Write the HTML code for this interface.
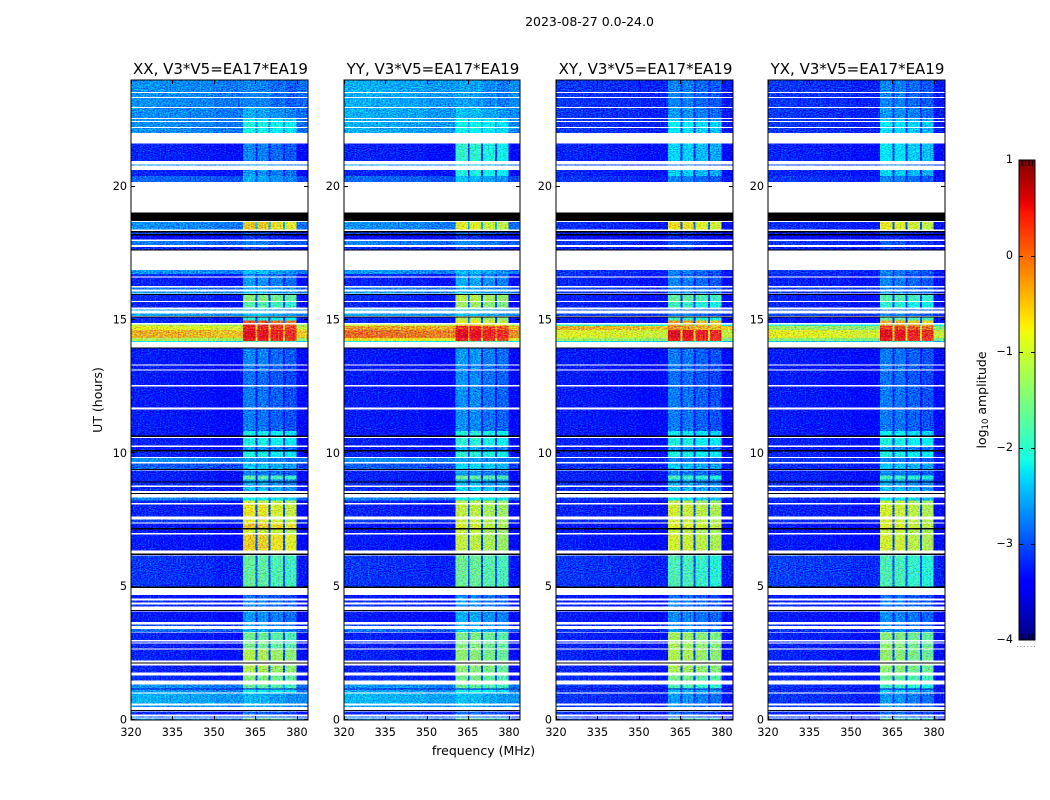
<!DOCTYPE html>
<html lang="en">
<head>
<meta charset="utf-8">
<title>2023-08-27 0.0-24.0</title>
<style>
html,body{margin:0;padding:0;background:#fff;}
svg{display:block;}
text{font-family:"DejaVu Sans","Liberation Sans",sans-serif;fill:#000;}
</style>
</head>
<body>
<svg id="figure" xmlns="http://www.w3.org/2000/svg" width="1050" height="800" viewBox="0 0 1050 800">
<defs>
<filter id="speckle-a" x="0" y="0" width="1" height="1" color-interpolation-filters="sRGB">
<feTurbulence type="fractalNoise" baseFrequency="0.6 0.95" numOctaves="1" seed="3" result="t"/>
<feColorMatrix in="t" type="matrix" values="0.5 0 0 0 0.2 0 1 0 0 0 0 0 1 0 0.1 0 0 0 0 1" result="n"/>
<feComposite in="SourceGraphic" in2="n" operator="arithmetic" k1="0" k2="1" k3="1.4" k4="-0.72" result="a"/>
<feComposite in="a" in2="SourceAlpha" operator="in"/>
</filter>
<linearGradient id="jet-gradient" x1="0" y1="1" x2="0" y2="0"></linearGradient>
</defs>
<rect x="0" y="0" width="1050" height="800" fill="#fff"/>
<text x="589.5" y="26" font-size="12.5" text-anchor="middle">2023-08-27 0.0-24.0</text>
<text x="483.5" y="755" font-size="12.5" text-anchor="middle">frequency (MHz)</text>
<text x="0" y="0" font-size="12.5" text-anchor="middle" transform="translate(102 400) rotate(-90)">UT (hours)</text>
<text x="0" y="0" font-size="12.5" text-anchor="middle" transform="translate(986 400) rotate(-90)">log<tspan font-size="8.5" dy="2">10</tspan><tspan dy="-2"> amplitude</tspan></text>
</svg>
<script>
// Time rows (UT hours); anything not listed is flagged and stays white.
const rowStartUT = [
24.00,23.51,23.32,22.95,22.53,22.42,22.20,21.61,20.83,20.62,
20.40,19.03,18.68,18.33,18.29,18.22,18.16,17.96,17.74,17.65,
16.87,16.72,16.59,16.22,16.07,15.98,15.93,15.67,15.40,15.24,
15.14,15.10,14.99,14.84,14.77,14.62,14.32,14.21,13.97,13.94,
13.30,13.11,12.51,11.65,10.83,10.66,10.57,10.24,10.13,10.07,
9.82,9.62,9.42,9.36,9.17,9.01,8.95,8.91,8.74,8.52,
8.34,8.24,8.09,7.52,7.37,7.20,7.15,6.96,6.24,6.17,
5.01,4.69,4.48,4.33,4.13,4.07,3.58,3.41,3.29,2.94,
2.87,2.65,2.16,2.05,1.67,1.33,1.19,1.14,0.99,0.54,
0.38,0.32,0.13,0.06];
const rowEndUT = [
23.55,23.36,22.98,22.57,22.46,22.23,22.02,20.96,20.80,20.40,
20.18,18.71,18.39,18.29,18.22,18.16,18.01,17.81,17.65,17.62,
16.72,16.64,16.27,16.14,15.99,15.95,15.71,15.47,15.36,15.15,
15.11,14.99,14.88,14.77,14.62,14.32,14.21,14.17,13.94,13.34,
13.15,12.57,11.71,10.83,10.66,10.61,10.30,10.13,10.07,9.87,
9.67,9.42,9.40,9.17,9.01,8.95,8.91,8.80,8.59,8.49,
8.24,8.13,7.64,7.41,7.20,7.15,7.01,6.36,6.19,5.01,
4.95,4.55,4.41,4.26,4.09,3.67,3.52,3.30,3.00,2.91,
2.68,2.23,2.14,1.79,1.48,1.19,1.16,1.03,0.61,0.48,
0.34,0.21,0.09,0.00];

// log10 amplitude per row: background channels and spectral-window channels. null = zero amplitude (black).
const bgXX = [
-2.7,-2.7,-2.7,-2.7,-2.7,-2.7,-2.7,-3.25,-2.65,-3.25,
-2.9,null,-2.7,null,-3.05,null,-3.4,-2.8,-3.2,null,
-2.65,-3.2,-3.25,-2.85,-2.65,null,-3.2,-3.25,-2.55,-2.6,
null,-3.2,-3.2,-1.1,-0.8,-0.45,-1.1,-2.2,null,-3.3,
-3.3,-3.3,-3.3,-3.3,-3.3,null,-3.25,-3.3,null,-3.25,
-2.7,-2.95,null,-3.25,-3.25,-3.25,null,-3.2,-3.2,null,
-2.75,-3.25,-3.25,-3.1,-3.3,null,-3.3,-3.3,null,-3.15,
null,-3.3,-3.2,-3.2,null,-3.3,-3.05,-2.85,-3.25,-3.25,
-3.25,-3.25,null,-3.25,-3.2,-2.7,-3.7,-2.65,-2.55,-2.65,
null,-3.2,-2.95,-2.65];
const winXX = [
-2.7,-2.7,-2.7,-2.5,-2.1,-1.9,-2.0,-2.7,-2.5,-2.6,
-2.5,null,-0.5,null,-2.9,null,-3.1,-2.7,-3.0,null,
-2.4,-2.7,-2.6,-2.5,-2.4,null,-1.3,-1.6,-2.45,-2.4,
null,-1.9,0.1,0.35,0.35,0.5,0.4,-1.6,null,-2.7,
-2.75,-2.8,-2.75,-2.75,-2.0,null,-1.95,-2.6,null,-1.95,
-2.6,-2.35,null,-2.7,-1.55,-2.5,null,-2.5,-2.4,null,
-2.1,-0.85,-0.7,-0.75,-0.5,null,-0.85,-0.55,null,-1.5,
null,-2.8,-2.7,-2.7,null,-2.6,-2.6,-2.5,-1.45,-1.45,
-1.4,-1.05,null,-1.05,-1.3,-1.5,-3.7,-2.05,-2.45,-2.5,
null,-2.8,-2.8,-1.4];

const bgYY = [
-2.55,-2.55,-2.55,-2.55,-2.55,-2.55,-2.55,-3.25,-2.65,-3.25,
-2.9,null,-2.7,null,-3.05,null,-3.4,-2.75,-3.2,null,
-2.65,-3.2,-3.25,-2.85,-2.65,null,-3.2,-3.25,-2.55,-2.6,
null,-3.2,-3.2,-0.9,-0.35,-0.1,-0.7,-2.1,null,-3.3,
-3.3,-3.3,-3.3,-3.3,-3.3,null,-3.25,-3.3,null,-3.25,
-2.7,-2.95,null,-3.25,-3.25,-3.25,null,-3.2,-3.2,null,
-2.75,-3.25,-3.25,-3.1,-3.3,null,-3.3,-3.3,null,-3.15,
null,-3.3,-3.2,-3.2,null,-3.3,-3.05,-2.85,-3.25,-3.25,
-3.25,-3.25,null,-3.25,-3.2,-2.65,-3.7,-2.6,-2.5,-2.6,
null,-3.2,-2.95,-2.65];
const winYY = [
-2.55,-2.55,-2.55,-2.4,-2.1,-2.0,-2.05,-1.8,-2.4,-1.9,
-2.4,null,-0.75,null,-2.8,null,-3.1,-2.65,-3.0,null,
-2.4,-2.6,-2.5,-2.5,-2.4,null,-1.0,-1.15,-2.4,-2.4,
null,-1.0,-0.75,-0.45,0.3,0.5,0.35,-1.5,null,-2.6,
-2.65,-2.65,-2.65,-2.65,-1.9,null,-1.85,-2.5,null,-1.85,
-2.55,-2.25,null,-2.6,-1.45,-2.4,null,-2.4,-2.3,null,
-2.0,-0.95,-0.95,-0.9,-0.85,null,-0.95,-0.95,null,-1.45,
null,-2.7,-2.6,-2.6,null,-2.5,-2.5,-2.4,-1.35,-1.35,
-1.3,-1.25,null,-1.25,-1.4,-1.5,-3.7,-2.05,-2.4,-2.45,
null,-2.8,-2.8,-1.6];

const bgXY = [
-3.15,-3.15,-3.15,-3.15,-3.15,-3.15,-3.15,-3.25,-3.05,-3.25,
-3.15,null,-3.2,null,-3.25,null,-3.45,-3.15,-3.25,null,
-3.15,-3.2,-3.25,-3.15,-3.15,null,-3.25,-3.25,-3.05,-3.05,
null,-3.3,-3.3,-1.9,-0.45,-0.85,-1.2,-2.3,null,-3.3,
-3.3,-3.3,-3.3,-3.3,-3.3,null,-3.25,-3.3,null,-3.25,
-3.15,-3.2,null,-3.25,-3.25,-3.25,null,-3.2,-3.2,null,
-3.15,-3.25,-3.25,-3.2,-3.3,null,-3.3,-3.3,null,-3.15,
null,-3.3,-3.25,-3.25,null,-3.3,-3.2,-3.15,-3.25,-3.25,
-3.25,-3.25,null,-3.25,-3.2,-3.15,-3.7,-3.15,-3.15,-3.15,
null,-3.2,-3.15,-3.1];
const winXY = [
-2.7,-2.7,-2.7,-2.6,-2.35,-2.1,-2.2,-2.3,-2.7,-2.3,
-2.7,null,-0.65,null,-3.0,null,-3.2,-2.9,-3.1,null,
-2.7,-2.8,-2.7,-2.7,-2.6,null,-1.5,-1.75,-2.7,-2.7,
null,-1.7,-0.3,-0.35,-0.25,0.5,0.4,-1.7,null,-2.75,
-2.75,-2.8,-2.75,-2.75,-2.1,null,-1.95,-2.6,null,-1.95,
-2.7,-2.35,null,-2.7,-1.7,-2.5,null,-2.5,-2.4,null,
-2.2,-0.95,-0.85,-0.85,-0.75,null,-0.95,-0.85,null,-1.65,
null,-2.8,-2.7,-2.7,null,-2.65,-2.7,-2.6,-1.15,-1.15,
-1.1,-1.05,null,-1.1,-1.4,-1.65,-3.7,-2.4,-2.6,-2.6,
null,-2.85,-2.85,-1.6];

const bgYX = [
-3.15,-3.15,-3.15,-3.15,-3.15,-3.15,-3.15,-3.25,-3.05,-3.25,
-3.15,null,-3.2,null,-3.25,null,-3.45,-3.15,-3.25,null,
-3.15,-3.2,-3.25,-3.15,-3.15,null,-3.25,-3.25,-3.05,-3.05,
null,-3.3,-3.3,-1.9,-1.2,-0.8,-1.3,-2.4,null,-3.3,
-3.3,-3.3,-3.3,-3.3,-3.3,null,-3.25,-3.3,null,-3.25,
-3.15,-3.2,null,-3.25,-3.25,-3.25,null,-3.2,-3.2,null,
-3.15,-3.25,-3.25,-3.2,-3.3,null,-3.3,-3.3,null,-3.1,
null,-3.3,-3.25,-3.25,null,-3.3,-3.2,-3.15,-3.25,-3.25,
-3.25,-3.25,null,-3.25,-3.2,-3.15,-3.7,-3.15,-3.15,-3.15,
null,-3.2,-3.15,-3.1];
const winYX = [
-2.7,-2.7,-2.7,-2.6,-2.35,-2.15,-2.25,-2.2,-2.7,-2.3,
-2.7,null,-0.75,null,-3.0,null,-3.2,-2.9,-3.1,null,
-2.7,-2.8,-2.7,-2.7,-2.6,null,-1.6,-1.85,-2.7,-2.7,
null,-1.5,-0.4,-0.2,0.2,0.5,0.4,-1.7,null,-2.75,
-2.75,-2.8,-2.75,-2.75,-2.1,null,-1.95,-2.6,null,-1.95,
-2.7,-2.35,null,-2.7,-1.7,-2.5,null,-2.5,-2.4,null,
-2.2,-0.95,-0.85,-0.85,-0.8,null,-0.9,-0.85,null,-1.65,
null,-2.8,-2.7,-2.7,null,-2.65,-2.7,-2.6,-1.3,-1.3,
-1.25,-1.25,null,-1.25,-1.5,-1.75,-3.7,-2.4,-2.6,-2.6,
null,-2.85,-2.85,-1.6];

// Frequency channels (MHz) and how strongly each follows the window level.
const channelEdgesMHz = [320,330,340,350,360.5,365,365.7,369.8,370.5,374.9,375.6,379.8,384];
const channelWindowWeight = [0,0,0,0,1,0.12,1,0.12,1,0.12,1,0];
const channelOffset = [0.06,0.03,0,-0.06,0,0,-0.03,0,-0.14,0,-0.22,-0.12];

const polarizations = ['XX','YY','XY','YX'];
const xTickValues = [320,335,350,365,380];
const yTickValues = [0,5,10,15,20];
const colorbarTickValues = [1,0,-1,-2,-3,-4];
const titleSuffix = ', V3*V5=EA17*EA19';

const bgByPol = {XX:bgXX,YY:bgYY,XY:bgXY,YX:bgYX};
const winByPol = {XX:winXX,YY:winYY,XY:winXY,YX:winYX};

const SVGNS = 'http://www.w3.org/2000/svg';
const fig = document.getElementById('figure');
const panelLeft = [131,344,556,768];
const panelRight = [308,520,733,945];
const plotTop = 80, plotBottom = 720;
const cbLeft = 1019, cbRight = 1035, cbTop = 160, cbBottom = 640;
const vMin = -4, vMax = 1;

function mk(tag, parent, attrs){
  const e = document.createElementNS(SVGNS, tag);
  for (const k in attrs) e.setAttribute(k, attrs[k]);
  parent.appendChild(e);
  return e;
}
function ramp(pts, t){
  for (let i = 1; i < pts.length; i++){
    if (t <= pts[i][0]){
      const a = pts[i-1], b = pts[i];
      return a[1] + (b[1]-a[1]) * (t-a[0]) / (b[0]-a[0]);
    }
  }
  return pts[pts.length-1][1];
}
const jetR = [[0,0],[0.35,0],[0.66,1],[0.89,1],[1,0.5]];
const jetG = [[0,0],[0.125,0],[0.375,1],[0.64,1],[0.91,0],[1,0]];
const jetB = [[0,0.5],[0.11,1],[0.34,1],[0.65,0],[1,0]];
function jet(t){
  t = Math.max(0, Math.min(1, t));
  return 'rgb(' + Math.round(255*ramp(jetR,t)) + ',' + Math.round(255*ramp(jetG,t)) + ',' + Math.round(255*ramp(jetB,t)) + ')';
}
function colorOf(logAmp){ return jet((logAmp - vMin) / (vMax - vMin)); }
function yOfUT(h){ return plotBottom - h * (plotBottom - plotTop) / 24; }
function xScale(p){
  return function(mhz){ return panelLeft[p] + (mhz - 320) * (panelRight[p] - panelLeft[p]) / 64; };
}
function cbY(v){ return cbBottom - (v - vMin) * (cbBottom - cbTop) / (vMax - vMin); }

polarizations.forEach(function(pol, p){
  const x = xScale(p);
  const bg = bgByPol[pol], win = winByPol[pol];
  const panel = mk('g', fig, {});
  
  

  const heat = mk('g', panel, {filter:'url(#speckle-a)','shape-rendering':'crispEdges'});
  
  
  const blackRows = mk('g', panel, {'shape-rendering':'crispEdges'});
  
  

  rowStartUT.forEach(function(start, r){
    const y0 = yOfUT(start), y1 = yOfUT(rowEndUT[r]);
    const h = Math.max(1, y1 - y0);
    if (bg[r] === null){
      const bar = mk('rect', blackRows, {x:x(320), y:y0, width:x(384)-x(320), height:h, fill:'#000'});
      
      
      return;
    }
    channelWindowWeight.forEach(function(w, c){
      const level = bg[r] + w * (win[r] - bg[r]) + channelOffset[c];
      const cx0 = x(channelEdgesMHz[c]), cx1 = x(channelEdgesMHz[c+1]);
      const cell = mk('rect', heat, {x:cx0, y:y0, width:cx1-cx0, height:h, fill:colorOf(level)});
      
      
    });
  });

  const frame = mk('rect', panel, {x:panelLeft[p], y:plotTop, width:panelRight[p]-panelLeft[p], height:plotBottom-plotTop, fill:'none', stroke:'#000', 'stroke-width':1});
  
  

  const title = mk('text', panel, {x:(panelLeft[p]+panelRight[p])/2 + 1, y:74, 'font-size':15, 'text-anchor':'middle'});
  title.textContent = pol + titleSuffix;
  
  

  xTickValues.forEach(function(v){
    const tx = Math.round(x(v)) + 0.5;
    const t1 = mk('line', panel, {x1:tx, x2:tx, y1:plotBottom, y2:plotBottom-4, stroke:'#000', 'stroke-width':1});
    
    
    const t2 = mk('line', panel, {x1:tx, x2:tx, y1:plotTop, y2:plotTop+4, stroke:'#000', 'stroke-width':1});
    
    
    const lab = mk('text', panel, {x:x(v), y:736, 'font-size':11.2, 'text-anchor':'middle'});
    lab.textContent = String(v);
    
    
  });
  yTickValues.forEach(function(v){
    const ty = Math.round(yOfUT(v)) - 0.5;
    const t1 = mk('line', panel, {x1:panelLeft[p], x2:panelLeft[p]+4, y1:ty, y2:ty, stroke:'#000', 'stroke-width':1});
    
    
    const t2 = mk('line', panel, {x1:panelRight[p], x2:panelRight[p]-4, y1:ty, y2:ty, stroke:'#000', 'stroke-width':1});
    
    
    const lab = mk('text', panel, {x:panelLeft[p]-4, y:yOfUT(v)+3.5, 'font-size':11.2, 'text-anchor':'end'});
    lab.textContent = String(v);
    
    
  });
});

// Colorbar
const grad = document.getElementById('jet-gradient');
for (let i = 0; i <= 64; i++){
  mk('stop', grad, {offset:(i/64), 'stop-color':jet(i/64)});
}
const cb = mk('g', fig, {});


const cbBar = mk('rect', cb, {x:cbLeft, y:cbTop, width:cbRight-cbLeft, height:cbBottom-cbTop, fill:'url(#jet-gradient)', stroke:'#000', 'stroke-width':1});


colorbarTickValues.forEach(function(v){
  const ty = cbY(v) + 0.5;
  if (v !== vMax && v !== vMin){
    const t1 = mk('line', cb, {x1:cbLeft, x2:cbLeft+4, y1:ty, y2:ty, stroke:'#000', 'stroke-width':1});
    
    
    const t2 = mk('line', cb, {x1:cbRight, x2:cbRight-4, y1:ty, y2:ty, stroke:'#000', 'stroke-width':1});
    
    
  }
  const lab = mk('text', cb, {x:1013, y:cbY(v)+3, 'font-size':11.2, 'text-anchor':'end'});
  lab.textContent = String(v).replace('-', '\u2212');
  
  
});
for (let k = 1; k <= 4; k++){
  const mx = cbLeft + 3.4 * k - 0.2;
  const mt = mk('line', cb, {x1:mx, x2:mx, y1:cbTop, y2:cbTop+6, stroke:'#000', 'stroke-width':1});
  
  
  const mb = mk('line', cb, {x1:mx, x2:mx, y1:cbBottom, y2:cbBottom-6, stroke:'#000', 'stroke-width':1});
  
  
}
for (let k = 0; k < 6; k++){
  const dot = mk('rect', cb, {x:1017 + k * 3.4, y:646, width:1, height:1, fill:'#888'});
  
  
}
</script>
</body>
</html>
